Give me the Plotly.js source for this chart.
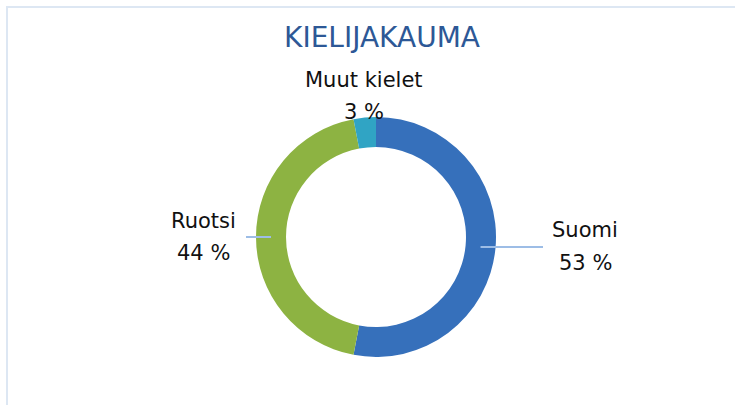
<!DOCTYPE html>
<html>
<head>
<meta charset="utf-8">
<script src="https://cdn.plot.ly/plotly-3.0.1.min.js"></script>
<style>html,body{margin:0;padding:0;background:#fff;}#chart{width:735px;height:405px;}</style>
</head>
<body>
<div id="chart"></div>
<script>
// ---- data ----
var categories = ["Suomi", "Ruotsi", "Muut kielet"];
var values = [53, 44, 3];
var colors = ["#3670bb", "#8db342", "#30a4c4"];
var titleText = "KIELIJAKAUMA";

// ---- layout geometry (pixels) ----
var W = 735, H = 405;
var M = {l: 256, r: 239, t: 117, b: 48};
var plotW = W - M.l - M.r, plotH = H - M.t - M.b;
var cx = M.l + plotW / 2, cy = M.t + plotH / 2;
var R = Math.min(plotW, plotH) / 2;
var hole = 0.75;
function px2x(px) { return (px - M.l) / plotW; }
function py2y(py) { return (H - M.b - py) / plotH; }

// label placement (layout styling, per category)
var labelPos = [
  {x: 585, y1: 230, y2: 263, lineEnd: 543},
  {x: 203, y1: 221, y2: 253, lineEnd: 246},
  {x: 364, y1: 80,  y2: 112, lineEnd: null}
];

var total = values.reduce(function (a, b) { return a + b; }, 0);
var annotations = [], shapes = [];
var cum = 0;
values.forEach(function (v, i) {
  var frac = v / total;
  var mid = (cum + frac / 2) * 2 * Math.PI;  // clockwise from top
  cum += frac;
  var pct = Math.round(frac * 100) + " %";
  var p = labelPos[i];
  var font = {family: "DejaVu Sans, sans-serif", size: 21, color: "#111"};
  annotations.push({xref: "paper", yref: "paper", x: px2x(p.x), y: py2y(p.y1),
    text: categories[i], showarrow: false, xanchor: "center", yanchor: "middle", font: font});
  annotations.push({xref: "paper", yref: "paper", x: px2x(p.x), y: py2y(p.y2),
    text: pct, showarrow: false, xanchor: "center", yanchor: "middle", font: font});
  if (p.lineEnd !== null) {
    var rm = R * (1 + hole) / 2;
    var sx = cx + rm * Math.sin(mid), sy = cy - rm * Math.cos(mid);
    shapes.push({type: "line", xref: "paper", yref: "paper",
      x0: px2x(sx), y0: py2y(sy), x1: px2x(p.lineEnd), y1: py2y(sy),
      line: {color: "#9dbde6", width: 2}});
  }
});

// chart frame
shapes.push({type: "rect", xref: "paper", yref: "paper",
  x0: px2x(7), y0: py2y(7), x1: px2x(760), y1: py2y(430),
  line: {color: "#dde7f3", width: 2}, layer: "below"});

var trace = {
  type: "pie",
  labels: categories,
  values: values,
  hole: hole,
  sort: false,
  direction: "clockwise",
  rotation: 0,
  textinfo: "none",
  hoverinfo: "label+percent",
  marker: {colors: colors, line: {width: 0}},
  showlegend: false
};

var layout = {
  width: W, height: H,
  margin: M,
  paper_bgcolor: "#ffffff",
  plot_bgcolor: "#ffffff",
  title: {text: titleText, x: 382 / W, xanchor: "center", y: 1 - 37 / H, yanchor: "middle",
          font: {family: "DejaVu Sans, sans-serif", size: 28, color: "#2d5896"}},
  annotations: annotations,
  shapes: shapes,
  showlegend: false
};

Plotly.newPlot("chart", [trace], layout, {displayModeBar: false, staticPlot: true});
</script>
</body>
</html>
